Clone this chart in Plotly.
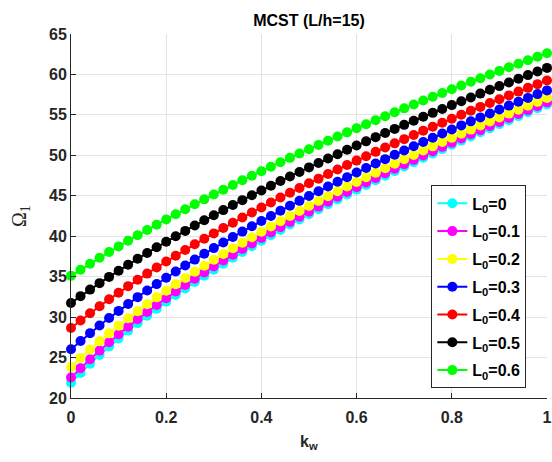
import plotly.graph_objects as go

kw = [round(0.02 * i, 2) for i in range(51)]

L0_labels = ["0", "0.1", "0.2", "0.3", "0.4", "0.5", "0.6"]
colors = ["#00ffff", "#ff00ff", "#ffff00", "#0000ff", "#ff0000", "#000000", "#00ff00"]

omega_L0_00 = [21.90, 23.10, 24.23, 25.32, 26.36, 27.36, 28.33, 29.26, 30.17, 31.04,
               31.90, 32.73, 33.54, 34.34, 35.11, 35.87, 36.61, 37.34, 38.05, 38.75,
               39.44, 40.12, 40.78, 41.44, 42.08, 42.71, 43.34, 43.96, 44.56, 45.16,
               45.76, 46.34, 46.92, 47.49, 48.05, 48.61, 49.16, 49.70, 50.24, 50.77,
               51.30, 51.82, 52.34, 52.85, 53.35, 53.86, 54.35, 54.85, 55.33, 55.82,
               56.30]
omega_L0_01 = [22.53, 23.69, 24.80, 25.86, 26.89, 27.87, 28.82, 29.74, 30.63, 31.49,
               32.34, 33.16, 33.96, 34.74, 35.51, 36.26, 36.99, 37.71, 38.42, 39.11,
               39.79, 40.47, 41.12, 41.77, 42.41, 43.04, 43.66, 44.27, 44.88, 45.47,
               46.06, 46.64, 47.21, 47.78, 48.34, 48.89, 49.44, 49.98, 50.52, 51.05,
               51.57, 52.09, 52.60, 53.11, 53.62, 54.12, 54.61, 55.10, 55.59, 56.07,
               56.55]
omega_L0_02 = [23.84, 24.94, 26.00, 27.01, 27.99, 28.94, 29.85, 30.74, 31.60, 32.44,
               33.26, 34.06, 34.84, 35.60, 36.35, 37.09, 37.80, 38.51, 39.20, 39.88,
               40.55, 41.21, 41.86, 42.49, 43.12, 43.74, 44.35, 44.95, 45.55, 46.14,
               46.71, 47.29, 47.85, 48.41, 48.96, 49.51, 50.05, 50.59, 51.11, 51.64,
               52.16, 52.67, 53.18, 53.68, 54.18, 54.68, 55.16, 55.65, 56.13, 56.61,
               57.08]
omega_L0_03 = [26.03, 27.04, 28.02, 28.97, 29.88, 30.77, 31.63, 32.47, 33.29, 34.08,
               34.87, 35.63, 36.38, 37.11, 37.83, 38.53, 39.22, 39.90, 40.57, 41.23,
               41.88, 42.51, 43.14, 43.76, 44.37, 44.97, 45.57, 46.15, 46.73, 47.30,
               47.87, 48.43, 48.98, 49.53, 50.07, 50.60, 51.13, 51.65, 52.17, 52.69,
               53.19, 53.70, 54.20, 54.69, 55.18, 55.67, 56.15, 56.62, 57.10, 57.57,
               58.03]
omega_L0_04 = [28.66, 29.58, 30.48, 31.35, 32.20, 33.02, 33.83, 34.61, 35.38, 36.13,
               36.87, 37.59, 38.30, 39.00, 39.68, 40.35, 41.01, 41.66, 42.31, 42.94,
               43.56, 44.17, 44.78, 45.37, 45.96, 46.54, 47.12, 47.69, 48.25, 48.80,
               49.35, 49.89, 50.43, 50.96, 51.48, 52.00, 52.52, 53.03, 53.53, 54.03,
               54.53, 55.02, 55.51, 55.99, 56.47, 56.94, 57.41, 57.88, 58.34, 58.80,
               59.26]
omega_L0_05 = [31.75, 32.59, 33.40, 34.20, 34.97, 35.74, 36.48, 37.21, 37.93, 38.63,
               39.32, 40.00, 40.66, 41.32, 41.97, 42.60, 43.23, 43.85, 44.46, 45.06,
               45.65, 46.24, 46.82, 47.39, 47.95, 48.51, 49.06, 49.60, 50.14, 50.68,
               51.21, 51.73, 52.25, 52.76, 53.27, 53.77, 54.27, 54.76, 55.25, 55.73,
               56.21, 56.69, 57.16, 57.63, 58.10, 58.56, 59.01, 59.47, 59.92, 60.37,
               60.81]
omega_L0_06 = [35.10, 35.86, 36.60, 37.33, 38.04, 38.74, 39.43, 40.11, 40.77, 41.43,
               42.07, 42.71, 43.33, 43.95, 44.56, 45.15, 45.75, 46.33, 46.91, 47.48,
               48.04, 48.60, 49.15, 49.69, 50.23, 50.76, 51.29, 51.81, 52.33, 52.84,
               53.35, 53.85, 54.35, 54.84, 55.33, 55.81, 56.29, 56.77, 57.24, 57.71,
               58.17, 58.63, 59.09, 59.54, 59.99, 60.44, 60.88, 61.32, 61.76, 62.20,
               62.63]

series = [omega_L0_00, omega_L0_01, omega_L0_02, omega_L0_03,
          omega_L0_04, omega_L0_05, omega_L0_06]

fig = go.Figure()
for lab, col, vals in zip(L0_labels, colors, series):
    fig.add_trace(go.Scatter(
        x=kw, y=vals, mode="lines+markers",
        name=f"<b>L<sub>0</sub>={lab}</b>",
        legendgroup=lab,
        line=dict(color=col, width=2),
        marker=dict(color=col, size=10),
        cliponaxis=False,
    ))

sans = "Liberation Sans, Arial, sans-serif"
axis_font = dict(family=sans, size=16, color="#262626")

fig.update_layout(
    width=552, height=462,
    margin=dict(l=71, r=5, t=34, b=64),
    paper_bgcolor="white", plot_bgcolor="white",
    title=dict(text="<b>MCST (L/h=15)</b>", x=0.5, xref="paper",
               y=1 - 20 / 462, yref="container", yanchor="middle",
               font=dict(family=sans, size=16, color="black")),
    legend=dict(x=0.757, y=0.584, xanchor="left", yanchor="top",
                bgcolor="white", bordercolor="#262626", borderwidth=1,
                tracegroupgap=4, itemwidth=30,
                font=dict(family=sans, size=16, color="black")),
    showlegend=True,
    annotations=[
        dict(text="<b>k<sub>w</sub></b>", xref="paper", yref="paper",
             x=0.5, y=-44 / 364, xanchor="center", yanchor="middle",
             showarrow=False, font=axis_font),
        dict(text="Ω<sub>1</sub>", xref="paper", yref="paper",
             x=-51 / 476, y=0.5, xanchor="center", yanchor="middle",
             textangle=-90, showarrow=False,
             font=dict(family="Liberation Serif, Times New Roman, serif", size=20, color="#262626")),
    ],
)

fig.update_xaxes(
    range=[0, 1], tickvals=[0, 0.2, 0.4, 0.6, 0.8, 1],
    ticktext=["<b>0</b>", "<b>0.2</b>", "<b>0.4</b>", "<b>0.6</b>", "<b>0.8</b>", "<b>1</b>"],
    ticks="inside", ticklen=5, tickcolor="#262626",
    showline=True, linecolor="#262626", linewidth=1,
    showgrid=True, gridcolor="#e3e3e3", zeroline=False,
    tickfont=axis_font, automargin=False, ticklabelstandoff=5,
)
fig.update_yaxes(
    range=[20, 65], tickvals=[20, 25, 30, 35, 40, 45, 50, 55, 60, 65],
    ticktext=[f"<b>{v}</b>" for v in [20, 25, 30, 35, 40, 45, 50, 55, 60, 65]],
    ticks="inside", ticklen=5, tickcolor="#262626",
    showline=True, linecolor="#262626", linewidth=1,
    showgrid=True, gridcolor="#e3e3e3", zeroline=False,
    tickfont=axis_font, automargin=False,
)

fig.write_html("out.html", config={"displayModeBar": False},
               post_script="document.body.style.margin='0';")
